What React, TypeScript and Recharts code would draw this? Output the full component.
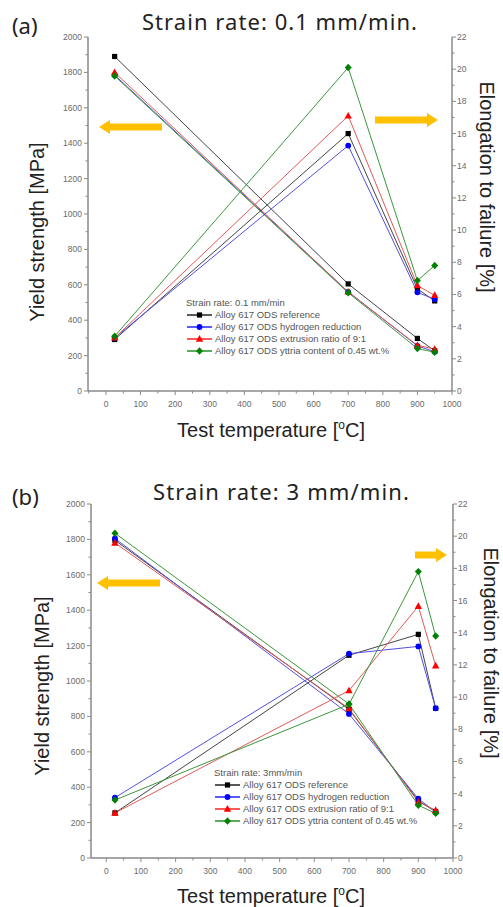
import React from 'react';
import { LineChart, Line, XAxis, YAxis, Legend } from 'recharts';

// ---------- data ----------
const temperatures = [25, 700, 900, 950];

const alloyNames = [
  'Alloy 617 ODS reference',
  'Alloy 617 ODS hydrogen reduction',
  'Alloy 617 ODS extrusion ratio of 9:1',
  'Alloy 617 ODS yttria content of 0.45 wt.%',
];
const seriesKeys = ['ref', 'hyd', 'ext', 'ytt'];

// Panel (a): strain rate 0.1 mm/min
const yieldA_ref = [1890, 605, 297, 227];
const yieldA_hyd = [1785, 560, 255, 222];
const yieldA_ext = [1800, 560, 258, 237];
const yieldA_ytt = [1780, 555, 240, 219];
const elongA_ref = [3.2, 16.0, 6.35, 5.6];
const elongA_hyd = [3.3, 15.25, 6.13, 5.7];
const elongA_ext = [3.3, 17.1, 6.55, 5.95];
const elongA_ytt = [3.4, 20.1, 6.86, 7.8];

// Panel (b): strain rate 3 mm/min
const yieldB_ref = [1795, 840, 323, 262];
const yieldB_hyd = [1805, 814, 335, 260];
const yieldB_ext = [1780, 845, 316, 270];
const yieldB_ytt = [1835, 870, 298, 252];
const elongB_ref = [2.8, 12.6, 13.9, 9.3];
const elongB_hyd = [3.75, 12.7, 13.15, 9.3];
const elongB_ext = [2.8, 10.4, 15.65, 11.95];
const elongB_ytt = [3.6, 9.55, 17.8, 13.8];

// ticks
const xTicksA = [-50, 0, 50, 100, 150, 200, 250, 300, 350, 400, 450, 500, 550, 600, 650, 700, 750, 800, 850, 900, 950, 1000];
const xTicksB = [0, 50, 100, 150, 200, 250, 300, 350, 400, 450, 500, 550, 600, 650, 700, 750, 800, 850, 900, 950, 1000];
const yieldTicks = [0, 100, 200, 300, 400, 500, 600, 700, 800, 900, 1000, 1100, 1200, 1300, 1400, 1500, 1600, 1700, 1800, 1900, 2000];
const elongTicks = [0, 1, 2, 3, 4, 5, 6, 7, 8, 9, 10, 11, 12, 13, 14, 15, 16, 17, 18, 19, 20, 21, 22];

// ---------- styles ----------
const AXIS_COLOR = '#8a8a8a';
const TICK_COLOR = '#6a6a6a';
const SANS = '"Liberation Sans", Arial, sans-serif';
const TITLE_FONT = '"Noto Sans", "Open Sans", sans-serif';
const ORANGE = '#FFC000';

const STYLES: Record<string, { line: string; fill: string; shape: string }> = {
  ref: { line: '#444444', fill: '#000000', shape: 'square' },
  hyd: { line: '#5050e0', fill: '#0000ff', shape: 'circle' },
  ext: { line: '#e05858', fill: '#ff0000', shape: 'triangle' },
  ytt: { line: '#3c963c', fill: '#008000', shape: 'diamond' },
};

const buildData = (yields: number[][], elongs: number[][]) =>
  temperatures.map((t, i) => {
    const row: any = { t };
    seriesKeys.forEach((k, s) => {
      row[k + 'Y'] = yields[s][i];
      row[k + 'E'] = elongs[s][i];
    });
    return row;
  });

const dataA = buildData([yieldA_ref, yieldA_hyd, yieldA_ext, yieldA_ytt], [elongA_ref, elongA_hyd, elongA_ext, elongA_ytt]);
const dataB = buildData([yieldB_ref, yieldB_hyd, yieldB_ext, yieldB_ytt], [elongB_ref, elongB_hyd, elongB_ext, elongB_ytt]);

function Marker({ shape, cx, cy, color }: any) {
  if (cx == null || cy == null) return null;
  switch (shape) {
    case 'square':
      return <rect x={cx - 2.6} y={cy - 2.6} width={5.2} height={5.2} fill={color} />;
    case 'circle':
      return <circle cx={cx} cy={cy} r={2.9} fill={color} />;
    case 'triangle':
      return <polygon points={`${cx},${cy - 3.9} ${cx + 3.7},${cy + 2.7} ${cx - 3.7},${cy + 2.7}`} fill={color} />;
    default:
      return <polygon points={`${cx},${cy - 3.7} ${cx + 3.5},${cy} ${cx},${cy + 3.7} ${cx - 3.5},${cy}`} fill={color} />;
  }
}

function BottomTick(props: any) {
  const { x, y, payload } = props;
  const v = payload.value;
  const major = v % 100 === 0;
  return (
    <g>
      <line x1={x} x2={x} y1={y} y2={y + (major ? 4 : 2.5)} stroke={AXIS_COLOR} strokeWidth={1} />
      {major && v >= 0 ? (
        <text x={x} y={y + 16} textAnchor="middle" fontSize={8.5} fill={TICK_COLOR} fontFamily={SANS}>
          {v}
        </text>
      ) : null}
    </g>
  );
}

function TopTick(props: any) {
  const { x, y, payload } = props;
  if (payload.value % 100 !== 0) return <g />;
  return <line x1={x} x2={x} y1={y} y2={y + 3} stroke={AXIS_COLOR} strokeWidth={1} />;
}

function LeftTick(props: any) {
  const { x, y, payload } = props;
  const v = payload.value;
  const major = v % 200 === 0;
  return (
    <g>
      <line x1={x - (major ? 4 : 2.5)} x2={x} y1={y} y2={y} stroke={AXIS_COLOR} strokeWidth={1} />
      {major ? (
        <text x={x - 6} y={y + 3} textAnchor="end" fontSize={8.5} fill={TICK_COLOR} fontFamily={SANS}>
          {v}
        </text>
      ) : null}
    </g>
  );
}

function RightTick(props: any) {
  const { x, y, payload } = props;
  const v = payload.value;
  const major = v % 2 === 0;
  return (
    <g>
      <line x1={x} x2={x + (major ? 4 : 2.5)} y1={y} y2={y} stroke={AXIS_COLOR} strokeWidth={1} />
      {major ? (
        <text x={x + 5} y={y + 3} textAnchor="start" fontSize={8.5} fill={TICK_COLOR} fontFamily={SANS}>
          {v}
        </text>
      ) : null}
    </g>
  );
}

function LegendBox({ title }: { title: string }) {
  return (
    <div style={{ fontFamily: SANS, fontSize: 9.5, color: '#555', lineHeight: '12px', whiteSpace: 'nowrap' }}>
      <div style={{ height: 12 }}>{title}</div>
      {seriesKeys.map((k, i) => (
        <div key={k} style={{ display: 'flex', alignItems: 'center', height: 12 }}>
          <svg width={27} height={12} style={{ display: 'block' }}>
            <line x1={1} x2={26} y1={6} y2={6} stroke={STYLES[k].fill} strokeWidth={1.3} />
            <Marker shape={STYLES[k].shape} cx={13.5} cy={6} color={STYLES[k].fill} />
          </svg>
          <span style={{ marginLeft: 2 }}>{alloyNames[i]}</span>
        </div>
      ))}
    </div>
  );
}

function Panel(props: any) {
  const { data, xDomain, xTicks, height, top, marginTop, leftW, rightW, legendTitle, legendLeft, legendTop } = props;
  const axisLine = { stroke: AXIS_COLOR, strokeWidth: 1.5 };
  return (
    <div style={{ position: 'absolute', left: 0, top, width: 503, height }}>
      <LineChart width={503} height={height} data={data} margin={{ top: marginTop, right: 0, bottom: 0, left: 0 }}>
        <XAxis
          xAxisId="b"
          dataKey="t"
          type="number"
          domain={xDomain}
          ticks={xTicks}
          interval={0}
          allowDataOverflow
          tickSize={0}
          tickMargin={0}
          tickLine={false}
          tick={<BottomTick />}
          axisLine={axisLine}
          height={49}
        />
        <XAxis
          xAxisId="top"
          orientation="top"
          dataKey="t"
          type="number"
          domain={xDomain}
          ticks={xTicks}
          interval={0}
          allowDataOverflow
          tickSize={0}
          tickMargin={0}
          tickLine={false}
          tick={<TopTick />}
          axisLine={axisLine}
          height={0}
        />
        <YAxis
          yAxisId="left"
          orientation="left"
          type="number"
          domain={[0, 2000]}
          ticks={yieldTicks}
          interval={0}
          tickSize={0}
          tickMargin={0}
          tickLine={false}
          tick={<LeftTick />}
          axisLine={axisLine}
          width={leftW}
        />
        <YAxis
          yAxisId="right"
          orientation="right"
          type="number"
          domain={[0, 22]}
          ticks={elongTicks}
          interval={0}
          tickSize={0}
          tickMargin={0}
          tickLine={false}
          tick={<RightTick />}
          axisLine={axisLine}
          width={rightW}
        />
        {seriesKeys.map((k) => (
          <Line
            key={k + 'Y'}
            xAxisId="b"
            yAxisId="left"
            dataKey={k + 'Y'}
            stroke={STYLES[k].line}
            strokeWidth={1}
            isAnimationActive={false}
            activeDot={false}
            dot={(p: any) => <Marker key={`${k}Y-${p.index}`} shape={STYLES[k].shape} cx={p.cx} cy={p.cy} color={STYLES[k].fill} />}
          />
        ))}
        {seriesKeys.map((k) => (
          <Line
            key={k + 'E'}
            xAxisId="b"
            yAxisId="right"
            dataKey={k + 'E'}
            stroke={STYLES[k].line}
            strokeWidth={1}
            isAnimationActive={false}
            activeDot={false}
            dot={(p: any) => <Marker key={`${k}E-${p.index}`} shape={STYLES[k].shape} cx={p.cx} cy={p.cy} color={STYLES[k].fill} />}
          />
        ))}
        <Legend
          layout="vertical"
          align="center"
          verticalAlign="middle"
          wrapperStyle={{ position: 'absolute', left: legendLeft, top: legendTop, width: 260, height: 60 }}
          content={() => <LegendBox title={legendTitle} />}
        />
      </LineChart>
    </div>
  );
}

function arrowPts(tipX: number, tailX: number, y: number) {
  const dir = tailX > tipX ? 1 : -1;
  const hl = 11, hh = 7, sh = 3.5;
  const bx = tipX + dir * hl;
  return [
    [tipX, y], [bx, y - hh], [bx, y - sh], [tailX, y - sh], [tailX, y + sh], [bx, y + sh], [bx, y + hh],
  ].map((p) => p.join(',')).join(' ');
}

function XLabel({ y }: { y: number }) {
  return (
    <text x={271} y={y} textAnchor="middle" fontSize={20} fill="#222" fontFamily={SANS}>
      Test temperature [<tspan fontSize={12} dy={-8}>o</tspan>
      <tspan dy={8}>C]</tspan>
    </text>
  );
}

export default function App() {
  return (
    <div style={{ position: 'absolute', left: 0, top: 0, width: 503, height: 907, background: '#fff', overflow: 'hidden' }}>
      <Panel
        data={dataA}
        xDomain={[-52, 1000]}
        xTicks={xTicksA}
        height={440}
        top={0}
        marginTop={37}
        leftW={88}
        rightW={51}
        legendTitle="Strain rate: 0.1 mm/min"
        legendLeft={186}
        legendTop={297}
      />
      <Panel
        data={dataB}
        xDomain={[-44, 1000]}
        xTicks={xTicksB}
        height={467}
        top={440}
        marginTop={64}
        leftW={91}
        rightW={50}
        legendTitle="Strain rate: 3mm/min"
        legendLeft={214}
        legendTop={327}
      />
      <svg width={503} height={907} style={{ position: 'absolute', left: 0, top: 0, pointerEvents: 'none' }}>
        {/* panel titles */}
        <text x={12} y={34} fontSize={22} fill="#222" fontFamily={TITLE_FONT}>(a)</text>
        <text x={142} y={30} fontSize={22} fill="#222" fontFamily={TITLE_FONT} textLength={275} lengthAdjust="spacing">Strain rate: 0.1 mm/min.</text>
        <text x={12} y={505} fontSize={22} fill="#222" fontFamily={TITLE_FONT}>(b)</text>
        <text x={153} y={500} fontSize={22} fill="#222" fontFamily={TITLE_FONT} textLength={256} lengthAdjust="spacing">Strain rate: 3 mm/min.</text>

        {/* axis titles */}
        <text transform="translate(44,232) rotate(-90)" textAnchor="middle" fontSize={20} fill="#222" fontFamily={SANS}>Yield strength [MPa]</text>
        <text transform="translate(480,187) rotate(90)" textAnchor="middle" fontSize={20} fill="#222" fontFamily={SANS}>Elongation to failure [%]</text>
        <XLabel y={437} />
        <text transform="translate(49,686) rotate(-90)" textAnchor="middle" fontSize={20} fill="#222" fontFamily={SANS}>Yield strength [MPa]</text>
        <text transform="translate(484,653) rotate(90)" textAnchor="middle" fontSize={20} fill="#222" fontFamily={SANS}>Elongation to failure [%]</text>
        <XLabel y={903} />

        {/* direction arrows */}
        <polygon points={arrowPts(99, 162, 127)} fill={ORANGE} />
        <polygon points={arrowPts(438, 375, 120)} fill={ORANGE} />
        <polygon points={arrowPts(97, 160, 583)} fill={ORANGE} />
        <polygon points={arrowPts(447, 415, 555)} fill={ORANGE} />
      </svg>
    </div>
  );
}
